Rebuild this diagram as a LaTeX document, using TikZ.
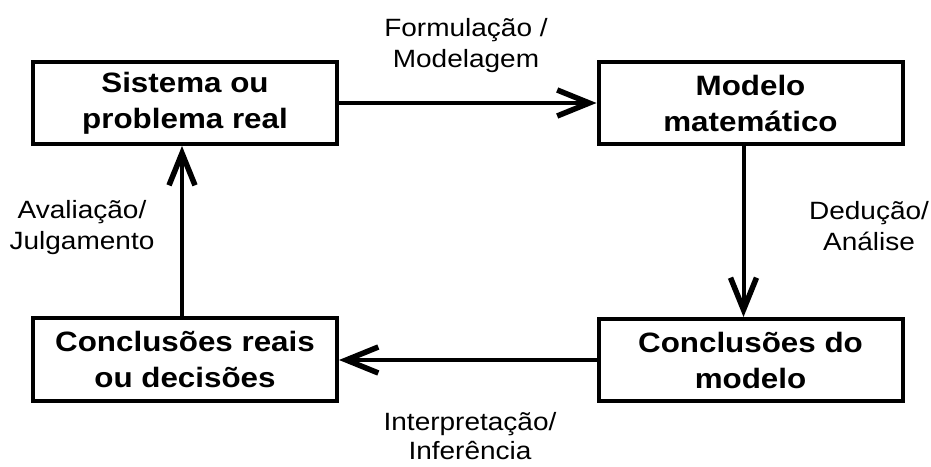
\documentclass[tikz,border=0pt]{standalone}
\usepackage{fontspec}
\setmainfont[FakeStretch=1.12]{Liberation Sans}
\usetikzlibrary{arrows.meta}
\begin{document}
\begin{tikzpicture}[x=1pt,y=1pt,
  stage/.style={draw, line width=4pt, minimum width=304pt, minimum height=82pt,
    align=center, inner sep=0pt, font=\fontsize{28}{36}\selectfont\bfseries},
  flow/.style={line width=4pt, -{Straight Barb[length=32pt,width=26pt,line width=5.5pt]}},
  lbl/.style={align=center, inner sep=0pt, font=\fontsize{25}{31}\selectfont}]
\useasboundingbox (0,0) rectangle (931,466);

% the four stages of the modelling cycle
\node[stage] (real)  at (185,363)   {Sistema ou\\problema real};
\node[stage] (model) at (750.5,363) {Modelo\\matemático};
\node[stage] (concm) at (750.5,106) {Conclusões do\\modelo};
\node[stage] (concr) at (185,106.5) {Conclusões reais\\ou decisões};

% transitions between stages
\draw[flow] (real.east) -- (model.west);
\draw[flow] ([xshift=-7pt]model.south) -- ([xshift=-7pt]concm.north);
\draw[flow] (concm.west) -- (concr.east |- concm.west);
\draw[flow] ([xshift=-3pt]concr.north) -- ([xshift=-3pt]real.south);

% transition labels
\node[lbl] (formul) at (466,420)   {Formulação /\\Modelagem};
\node[lbl] (deduc)  at (869,239.5) {Dedução/\\Análise};
\node[lbl, font=\fontsize{25}{29}\selectfont] (interp) at (470,30) {Interpretação/\\Inferência};
\node[lbl] (aval)   at (82,238)    {Avaliação/\\Julgamento};
\end{tikzpicture}
\end{document}
